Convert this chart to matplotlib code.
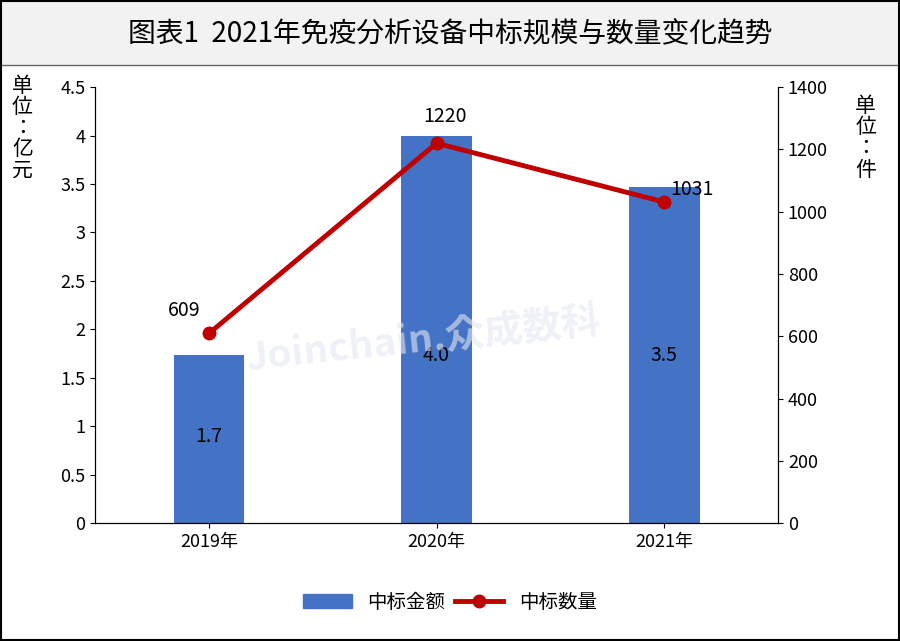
import matplotlib.pyplot as plt
from matplotlib.patches import Rectangle

plt.rcParams["font.family"] = ["Noto Sans CJK SC", "Noto Sans CJK JP", "Noto Sans CJK TC", "DejaVu Sans"]

years = ["2019年", "2020年", "2021年"]
amount = [1.73, 4.0, 3.47]
amount_labels = ["1.7", "4.0", "3.5"]
count = [609, 1220, 1031]

fig = plt.figure(figsize=(9, 6.41), dpi=100)
fig.patches.append(Rectangle((0, 0.898), 1, 0.102, transform=fig.transFigure,
                             facecolor="#f2f2f2", edgecolor="none", zorder=0))
fig.patches.append(Rectangle((0.001, 0.001), 0.998, 0.998, transform=fig.transFigure,
                             fill=False, edgecolor="black", lw=1.5, zorder=5))
fig.lines.append(plt.Line2D([0, 1], [0.898, 0.898], transform=fig.transFigure, color="#666666", lw=1))
fig.text(0.5, 0.947, "图表1  2021年免疫分析设备中标规模与数量变化趋势", ha="center", va="center", fontsize=20)

ax = fig.add_axes([0.1056, 0.184, 0.759, 0.68])
x = range(len(years))
ax.bar(x, amount, width=0.31, color="#4472c4", zorder=2)
label_y = [0.89, 1.73, 1.73]
for i in x:
    ax.text(i, label_y[i], amount_labels[i], ha="center", va="center", fontsize=14, zorder=4)
ax.set_ylim(0, 4.5)
ax.set_yticks([0, 0.5, 1, 1.5, 2, 2.5, 3, 3.5, 4, 4.5])
ax.set_yticklabels(["0", "0.5", "1", "1.5", "2", "2.5", "3", "3.5", "4", "4.5"])
ax.set_xlim(-0.5, 2.5)
ax.set_xticks(list(x))
ax.set_xticklabels(years)
ax.tick_params(labelsize=13, direction="out")
ax.spines["top"].set_visible(False)

ax2 = ax.twinx()
ax2.plot(x, count, color="#c00000", lw=3.5, marker="o", markersize=9, zorder=3)
label_pos = [(-0.11, 684), (1.035, 1307), (2.12, 1072)]
for i, v in enumerate(count):
    lx, ly = label_pos[i]
    ax2.text(lx, ly, str(v), ha="center", va="center", fontsize=14)
ax2.set_ylim(0, 1400)
ax2.set_yticks(range(0, 1401, 200))
ax2.tick_params(labelsize=13)
ax2.spines["top"].set_visible(False)

fig.text(0.025, 0.80, "单\n位\n：\n亿\n元", ha="center", va="center", fontsize=15, linespacing=0.95)
fig.text(0.962, 0.785, "单\n位\n：\n件", ha="center", va="center", fontsize=15, linespacing=0.95)
fig.text(0.47, 0.47, "Joinchain.众成数科", ha="center", va="center", fontsize=28,
         color="#e4e8f2", alpha=0.6, rotation=6, fontweight="bold", zorder=10)

h1 = Rectangle((0, 0), 1, 1, color="#4472c4")
h2 = plt.Line2D([], [], color="#c00000", lw=3.5, marker="o", markersize=9)
fig.legend([h1, h2], ["中标金额", "中标数量"], loc="center", bbox_to_anchor=(0.5, 0.06),
           ncol=2, frameon=False, fontsize=14, handlelength=2.5, columnspacing=0.5)

fig.savefig("out.png", dpi=100)
